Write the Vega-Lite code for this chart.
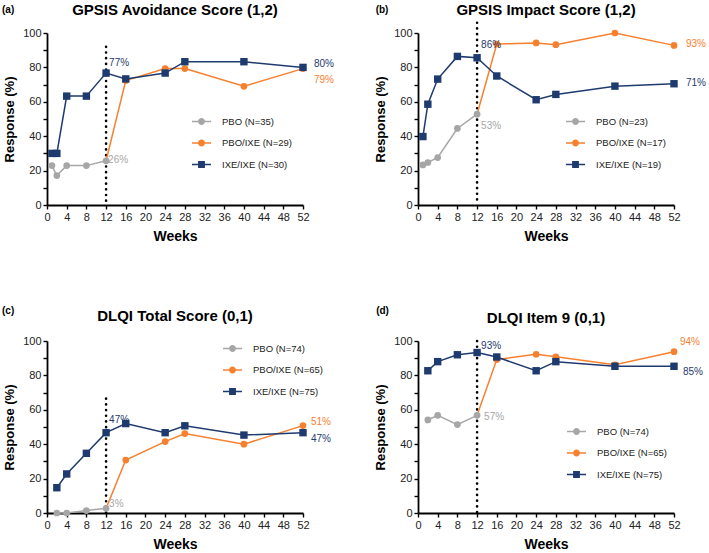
{
  "$schema": "https://vega.github.io/schema/vega-lite/v6.json",
  "padding": {"left": 1, "top": 2, "right": 0, "bottom": 0},
  "background": "white",
  "config": {
    "font": "Liberation Sans",
    "view": {"stroke": null},
    "axis": {"domainColor": "#000", "domainWidth": 1.8, "tickColor": "#000", "tickWidth": 1.4, "tickSize": 4, "labelFontSize": 11, "labelColor": "#222", "labelPadding": 2, "titleFontSize": 13, "titleFontWeight": "bold", "titleColor": "#000", "grid": false, "labelFont": "Liberation Sans", "titleFont": "Liberation Sans"},
    "axisX": {"titleFontSize": 14, "titlePadding": 7, "labelFlush": false},
    "axisY": {"titlePadding": 6},
    "legend": {"labelFontSize": 9.5, "labelColor": "#222", "labelFont": "Liberation Sans", "symbolSize": 361, "symbolStrokeWidth": 1.5, "rowPadding": 4.5, "padding": 0, "labelOffset": 10}
  },
  "datasets": {
    "a": [
      {"series": "PBO", "week": 1, "value": 22.9}, {"series": "PBO", "week": 2, "value": 17.1}, {"series": "PBO", "week": 4, "value": 22.9}, {"series": "PBO", "week": 8, "value": 22.9}, {"series": "PBO", "week": 12, "value": 25.7},
      {"series": "PBO/IXE", "week": 12, "value": 25.7}, {"series": "PBO/IXE", "week": 16, "value": 72.4}, {"series": "PBO/IXE", "week": 24, "value": 79.3}, {"series": "PBO/IXE", "week": 28, "value": 79.3}, {"series": "PBO/IXE", "week": 40, "value": 69.0}, {"series": "PBO/IXE", "week": 52, "value": 79.3},
      {"series": "IXE/IXE", "week": 1, "value": 30.0}, {"series": "IXE/IXE", "week": 2, "value": 30.0}, {"series": "IXE/IXE", "week": 4, "value": 63.3}, {"series": "IXE/IXE", "week": 8, "value": 63.3}, {"series": "IXE/IXE", "week": 12, "value": 76.7}, {"series": "IXE/IXE", "week": 16, "value": 73.3}, {"series": "IXE/IXE", "week": 24, "value": 76.7}, {"series": "IXE/IXE", "week": 28, "value": 83.3}, {"series": "IXE/IXE", "week": 40, "value": 83.3}, {"series": "IXE/IXE", "week": 52, "value": 80.0}
    ],
    "b": [
      {"series": "PBO", "week": 1, "value": 23.3}, {"series": "PBO", "week": 2, "value": 24.7}, {"series": "PBO", "week": 4, "value": 27.6}, {"series": "PBO", "week": 8, "value": 44.5}, {"series": "PBO", "week": 12, "value": 52.8},
      {"series": "PBO/IXE", "week": 12, "value": 52.8}, {"series": "PBO/IXE", "week": 16, "value": 93.6}, {"series": "PBO/IXE", "week": 24, "value": 94.2}, {"series": "PBO/IXE", "week": 28, "value": 93.2}, {"series": "PBO/IXE", "week": 40, "value": 100}, {"series": "PBO/IXE", "week": 52, "value": 92.8},
      {"series": "IXE/IXE", "week": 1, "value": 39.8}, {"series": "IXE/IXE", "week": 2, "value": 58.6}, {"series": "IXE/IXE", "week": 4, "value": 73.2}, {"series": "IXE/IXE", "week": 8, "value": 86.4}, {"series": "IXE/IXE", "week": 12, "value": 85.6}, {"series": "IXE/IXE", "week": 16, "value": 75.0}, {"series": "IXE/IXE", "week": 24, "value": 61.2}, {"series": "IXE/IXE", "week": 28, "value": 64.3}, {"series": "IXE/IXE", "week": 40, "value": 69.1}, {"series": "IXE/IXE", "week": 52, "value": 70.5}
    ],
    "c": [
      {"series": "PBO", "week": 2, "value": 0}, {"series": "PBO", "week": 4, "value": 0}, {"series": "PBO", "week": 8, "value": 1.4}, {"series": "PBO", "week": 12, "value": 2.7},
      {"series": "PBO/IXE", "week": 12, "value": 2.7}, {"series": "PBO/IXE", "week": 16, "value": 30.8}, {"series": "PBO/IXE", "week": 24, "value": 41.5}, {"series": "PBO/IXE", "week": 28, "value": 46.2}, {"series": "PBO/IXE", "week": 40, "value": 40.0}, {"series": "PBO/IXE", "week": 52, "value": 50.8},
      {"series": "IXE/IXE", "week": 2, "value": 14.7}, {"series": "IXE/IXE", "week": 4, "value": 22.7}, {"series": "IXE/IXE", "week": 8, "value": 34.7}, {"series": "IXE/IXE", "week": 12, "value": 46.7}, {"series": "IXE/IXE", "week": 16, "value": 52.0}, {"series": "IXE/IXE", "week": 24, "value": 46.7}, {"series": "IXE/IXE", "week": 28, "value": 50.7}, {"series": "IXE/IXE", "week": 40, "value": 45.3}, {"series": "IXE/IXE", "week": 52, "value": 46.7}
    ],
    "d": [
      {"series": "PBO", "week": 2, "value": 54.1}, {"series": "PBO", "week": 4, "value": 56.8}, {"series": "PBO", "week": 8, "value": 51.4}, {"series": "PBO", "week": 12, "value": 56.8},
      {"series": "PBO/IXE", "week": 12, "value": 56.8}, {"series": "PBO/IXE", "week": 16, "value": 89.2}, {"series": "PBO/IXE", "week": 24, "value": 92.3}, {"series": "PBO/IXE", "week": 28, "value": 90.8}, {"series": "PBO/IXE", "week": 40, "value": 86.2}, {"series": "PBO/IXE", "week": 52, "value": 93.8},
      {"series": "IXE/IXE", "week": 2, "value": 82.7}, {"series": "IXE/IXE", "week": 4, "value": 88.0}, {"series": "IXE/IXE", "week": 8, "value": 92.0}, {"series": "IXE/IXE", "week": 12, "value": 93.3}, {"series": "IXE/IXE", "week": 16, "value": 90.7}, {"series": "IXE/IXE", "week": 24, "value": 82.7}, {"series": "IXE/IXE", "week": 28, "value": 88.0}, {"series": "IXE/IXE", "week": 40, "value": 85.3}, {"series": "IXE/IXE", "week": 52, "value": 85.3}
    ],
    "ann": [
      {"panel": "a", "series": "IXE/IXE", "week": 12, "value": 76.7, "label": "77%", "pos": "above"},
      {"panel": "a", "series": "PBO", "week": 12, "value": 25.7, "label": "26%", "pos": "right"},
      {"panel": "a", "series": "IXE/IXE", "week": 52, "value": 80.0, "label": "80%", "pos": "end"},
      {"panel": "a", "series": "PBO/IXE", "week": 52, "value": 79.3, "label": "79%", "pos": "endbelow"},
      {"panel": "b", "series": "IXE/IXE", "week": 12, "value": 85.6, "label": "86%", "pos": "above"},
      {"panel": "b", "series": "PBO", "week": 12, "value": 52.8, "label": "53%", "pos": "below"},
      {"panel": "b", "series": "PBO/IXE", "week": 52, "value": 92.8, "label": "93%", "pos": "end"},
      {"panel": "b", "series": "IXE/IXE", "week": 52, "value": 70.5, "label": "71%", "pos": "end"},
      {"panel": "c", "series": "IXE/IXE", "week": 12, "value": 46.7, "label": "47%", "pos": "above"},
      {"panel": "c", "series": "PBO", "week": 12, "value": 2.7, "label": "3%", "pos": "right"},
      {"panel": "c", "series": "PBO/IXE", "week": 52, "value": 50.8, "label": "51%", "pos": "end"},
      {"panel": "c", "series": "IXE/IXE", "week": 52, "value": 46.7, "label": "47%", "pos": "endbelow"},
      {"panel": "d", "series": "IXE/IXE", "week": 12, "value": 93.3, "label": "93%", "pos": "above"},
      {"panel": "d", "series": "PBO", "week": 12, "value": 56.8, "label": "57%", "pos": "right"},
      {"panel": "d", "series": "PBO/IXE", "week": 52, "value": 93.8, "label": "94%", "pos": "endabove"},
      {"panel": "d", "series": "IXE/IXE", "week": 52, "value": 85.3, "label": "85%", "pos": "endbelow"}
    ]
  },
  "columns": 2,
  "spacing": {"row": 136, "column": 115},
  "bounds": "flush",
  "resolve": {"scale": {"color": "independent", "shape": "independent", "stroke": "independent"}},
  "concat": [
    {
      "width": 256, "height": 172,
      "data": {"name": "a"},
      "encoding": {
        "x": {"field": "week", "type": "quantitative", "scale": {"domain": [0, 52], "nice": false}, "axis": {"title": "Weeks", "values": [0, 4, 8, 12, 16, 20, 24, 28, 32, 36, 40, 44, 48, 52]}},
        "y": {"field": "value", "type": "quantitative", "scale": {"domain": [0, 100], "nice": false}, "axis": {"title": "Response (%)", "values": [0, 10, 20, 30, 40, 50, 60, 70, 80, 90, 100], "labelExpr": "datum.value % 20 == 0 ? datum.label : ''"}}
      },
      "layer": [
        {"transform": [{"filter": "datum.week < 0"}], "mark": {"type": "point", "filled": true, "opacity": 1},
          "encoding": {
            "color": {"field": "series", "type": "nominal", "scale": {"domain": ["PBO", "PBO/IXE", "IXE/IXE"], "range": ["#a6a6a6", "#f7802f", "#1f3a6e"]}, "legend": {"title": null, "orient": "none", "legendX": 144, "legendY": 78, "labelExpr": "datum.label == 'PBO' ? 'PBO (N=35)' : datum.label == 'PBO/IXE' ? 'PBO/IXE (N=29)' : 'IXE/IXE (N=30)'"}},
            "stroke": {"field": "series", "type": "nominal", "scale": {"domain": ["PBO", "PBO/IXE", "IXE/IXE"], "range": ["#a6a6a6", "#f7802f", "#1f3a6e"]}, "legend": {"title": null, "orient": "none", "legendX": 144, "legendY": 78, "labelExpr": "datum.label == 'PBO' ? 'PBO (N=35)' : datum.label == 'PBO/IXE' ? 'PBO/IXE (N=29)' : 'IXE/IXE (N=30)'"}},
            "shape": {"field": "series", "type": "nominal", "scale": {"domain": ["PBO", "PBO/IXE", "IXE/IXE"], "range": ["M-1,0H1M0.28,0A0.28,0.28,0,1,1,-0.28,0A0.28,0.28,0,1,1,0.28,0Z", "M-1,0H1M0.28,0A0.28,0.28,0,1,1,-0.28,0A0.28,0.28,0,1,1,0.28,0Z", "M-1,0H1M-0.28,-0.28H0.28V0.28H-0.28Z"]}, "legend": {"title": null, "orient": "none", "legendX": 144, "legendY": 78, "labelExpr": "datum.label == 'PBO' ? 'PBO (N=35)' : datum.label == 'PBO/IXE' ? 'PBO/IXE (N=29)' : 'IXE/IXE (N=30)'"}}
          }},
        {"transform": [{"filter": "datum.series == 'PBO' && datum.week == 12"}], "mark": {"type": "rule", "strokeDash": [0.1, 5.6], "strokeCap": "round", "strokeWidth": 2.6, "color": "#000"}, "encoding": {"x": {"datum": 12}, "y": {"datum": 92}, "y2": {"datum": 0}}},
        {"mark": {"type": "line", "strokeWidth": 1.5}, "encoding": {"color": {"field": "series", "type": "nominal", "legend": null}}},
        {"transform": [{"filter": "datum.series != 'IXE/IXE' && !(datum.series == 'PBO/IXE' && datum.week == 12)"}], "mark": {"type": "point", "shape": "circle", "filled": true, "size": 45, "opacity": 1}, "encoding": {"color": {"field": "series", "type": "nominal", "legend": null}}},
        {"transform": [{"filter": "datum.series == 'IXE/IXE'"}], "mark": {"type": "point", "shape": "square", "filled": true, "size": 55, "opacity": 1}, "encoding": {"color": {"field": "series", "type": "nominal", "legend": null}}},
        {"data": {"name": "ann"}, "transform": [{"filter": "datum.panel == 'a' && datum.pos == 'above'"}], "mark": {"type": "text", "align": "left", "baseline": "middle", "dx": 3, "dy": -10, "fontSize": 10}, "encoding": {"text": {"field": "label"}, "color": {"field": "series", "type": "nominal", "legend": null}}},
        {"data": {"name": "ann"}, "transform": [{"filter": "datum.panel == 'a' && datum.pos == 'right'"}], "mark": {"type": "text", "align": "left", "baseline": "middle", "dx": 2, "dy": -1, "fontSize": 10}, "encoding": {"text": {"field": "label"}, "color": {"field": "series", "type": "nominal", "legend": null}}},
        {"data": {"name": "ann"}, "transform": [{"filter": "datum.panel == 'a' && datum.pos == 'end'"}], "mark": {"type": "text", "align": "left", "baseline": "middle", "dx": 11, "dy": -3, "fontSize": 10}, "encoding": {"text": {"field": "label"}, "color": {"field": "series", "type": "nominal", "legend": null}}},
        {"data": {"name": "ann"}, "transform": [{"filter": "datum.panel == 'a' && datum.pos == 'endbelow'"}], "mark": {"type": "text", "align": "left", "baseline": "middle", "dx": 11, "dy": 11, "fontSize": 10}, "encoding": {"text": {"field": "label"}, "color": {"field": "series", "type": "nominal", "legend": null}}},
        {"transform": [{"filter": "datum.series == 'PBO' && datum.week == 12"}], "mark": {"type": "text", "fontSize": 15, "fontWeight": "bold", "color": "#000", "baseline": "middle", "align": "center"}, "encoding": {"text": {"value": "GPSIS Avoidance Score (1,2)"}, "x": {"datum": 26}, "y": {"datum": 113.4}}},
        {"transform": [{"filter": "datum.series == 'PBO' && datum.week == 12"}], "mark": {"type": "text", "fontSize": 10, "fontWeight": "bold", "color": "#000", "baseline": "middle", "align": "center"}, "encoding": {"text": {"value": "(a)"}, "x": {"datum": -7.9}, "y": {"datum": 113.4}}}
      ]
    },
    {
      "width": 256, "height": 172,
      "data": {"name": "b"},
      "encoding": {
        "x": {"field": "week", "type": "quantitative", "scale": {"domain": [0, 52], "nice": false}, "axis": {"title": "Weeks", "values": [0, 4, 8, 12, 16, 20, 24, 28, 32, 36, 40, 44, 48, 52]}},
        "y": {"field": "value", "type": "quantitative", "scale": {"domain": [0, 100], "nice": false}, "axis": {"title": "Response  (%)", "values": [0, 10, 20, 30, 40, 50, 60, 70, 80, 90, 100], "labelExpr": "datum.value % 20 == 0 ? datum.label : ''"}}
      },
      "layer": [
        {"transform": [{"filter": "datum.week < 0"}], "mark": {"type": "point", "filled": true, "opacity": 1},
          "encoding": {
            "color": {"field": "series", "type": "nominal", "scale": {"domain": ["PBO", "PBO/IXE", "IXE/IXE"], "range": ["#a6a6a6", "#f7802f", "#1f3a6e"]}, "legend": {"title": null, "orient": "none", "legendX": 147, "legendY": 78, "labelExpr": "datum.label == 'PBO' ? 'PBO (N=23)' : datum.label == 'PBO/IXE' ? 'PBO/IXE (N=17)' : 'IXE/IXE (N=19)'"}},
            "stroke": {"field": "series", "type": "nominal", "scale": {"domain": ["PBO", "PBO/IXE", "IXE/IXE"], "range": ["#a6a6a6", "#f7802f", "#1f3a6e"]}, "legend": {"title": null, "orient": "none", "legendX": 147, "legendY": 78, "labelExpr": "datum.label == 'PBO' ? 'PBO (N=23)' : datum.label == 'PBO/IXE' ? 'PBO/IXE (N=17)' : 'IXE/IXE (N=19)'"}},
            "shape": {"field": "series", "type": "nominal", "scale": {"domain": ["PBO", "PBO/IXE", "IXE/IXE"], "range": ["M-1,0H1M0.28,0A0.28,0.28,0,1,1,-0.28,0A0.28,0.28,0,1,1,0.28,0Z", "M-1,0H1M0.28,0A0.28,0.28,0,1,1,-0.28,0A0.28,0.28,0,1,1,0.28,0Z", "M-1,0H1M-0.28,-0.28H0.28V0.28H-0.28Z"]}, "legend": {"title": null, "orient": "none", "legendX": 147, "legendY": 78, "labelExpr": "datum.label == 'PBO' ? 'PBO (N=23)' : datum.label == 'PBO/IXE' ? 'PBO/IXE (N=17)' : 'IXE/IXE (N=19)'"}}
          }},
        {"transform": [{"filter": "datum.series == 'PBO' && datum.week == 12"}], "mark": {"type": "rule", "strokeDash": [0.1, 5.6], "strokeCap": "round", "strokeWidth": 2.6, "color": "#000"}, "encoding": {"x": {"datum": 12}, "y": {"datum": 106}, "y2": {"datum": 0}}},
        {"mark": {"type": "line", "strokeWidth": 1.5}, "encoding": {"color": {"field": "series", "type": "nominal", "legend": null}}},
        {"transform": [{"filter": "datum.series != 'IXE/IXE' && !(datum.series == 'PBO/IXE' && datum.week == 12)"}], "mark": {"type": "point", "shape": "circle", "filled": true, "size": 45, "opacity": 1}, "encoding": {"color": {"field": "series", "type": "nominal", "legend": null}}},
        {"transform": [{"filter": "datum.series == 'IXE/IXE'"}], "mark": {"type": "point", "shape": "square", "filled": true, "size": 55, "opacity": 1}, "encoding": {"color": {"field": "series", "type": "nominal", "legend": null}}},
        {"data": {"name": "ann"}, "transform": [{"filter": "datum.panel == 'b' && datum.pos == 'above'"}], "mark": {"type": "text", "align": "left", "baseline": "middle", "dx": 4, "dy": -13, "fontSize": 10}, "encoding": {"text": {"field": "label"}, "color": {"field": "series", "type": "nominal", "legend": null}}},
        {"data": {"name": "ann"}, "transform": [{"filter": "datum.panel == 'b' && datum.pos == 'below'"}], "mark": {"type": "text", "align": "left", "baseline": "middle", "dx": 4, "dy": 12, "fontSize": 10}, "encoding": {"text": {"field": "label"}, "color": {"field": "series", "type": "nominal", "legend": null}}},
        {"data": {"name": "ann"}, "transform": [{"filter": "datum.panel == 'b' && datum.pos == 'end'"}], "mark": {"type": "text", "align": "left", "baseline": "middle", "dx": 12, "dy": -1, "fontSize": 10}, "encoding": {"text": {"field": "label"}, "color": {"field": "series", "type": "nominal", "legend": null}}},
        {"transform": [{"filter": "datum.series == 'PBO' && datum.week == 12"}], "mark": {"type": "text", "fontSize": 15, "fontWeight": "bold", "color": "#000", "baseline": "middle", "align": "center"}, "encoding": {"text": {"value": "GPSIS Impact Score (1,2)"}, "x": {"datum": 26}, "y": {"datum": 113.4}}},
        {"transform": [{"filter": "datum.series == 'PBO' && datum.week == 12"}], "mark": {"type": "text", "fontSize": 10, "fontWeight": "bold", "color": "#000", "baseline": "middle", "align": "center"}, "encoding": {"text": {"value": "(b)"}, "x": {"datum": -7.3}, "y": {"datum": 113.4}}}
      ]
    },
    {
      "width": 256, "height": 172,
      "data": {"name": "c"},
      "encoding": {
        "x": {"field": "week", "type": "quantitative", "scale": {"domain": [0, 52], "nice": false}, "axis": {"title": "Weeks", "values": [0, 4, 8, 12, 16, 20, 24, 28, 32, 36, 40, 44, 48, 52]}},
        "y": {"field": "value", "type": "quantitative", "scale": {"domain": [0, 100], "nice": false}, "axis": {"title": "Response (%)", "values": [0, 10, 20, 30, 40, 50, 60, 70, 80, 90, 100], "labelExpr": "datum.value % 20 == 0 ? datum.label : ''"}}
      },
      "layer": [
        {"transform": [{"filter": "datum.week < 0"}], "mark": {"type": "point", "filled": true, "opacity": 1},
          "encoding": {
            "color": {"field": "series", "type": "nominal", "scale": {"domain": ["PBO", "PBO/IXE", "IXE/IXE"], "range": ["#a6a6a6", "#f7802f", "#1f3a6e"]}, "legend": {"title": null, "orient": "none", "legendX": 175, "legendY": -3, "labelExpr": "datum.label == 'PBO' ? 'PBO (N=74)' : datum.label == 'PBO/IXE' ? 'PBO/IXE (N=65)' : 'IXE/IXE (N=75)'"}},
            "stroke": {"field": "series", "type": "nominal", "scale": {"domain": ["PBO", "PBO/IXE", "IXE/IXE"], "range": ["#a6a6a6", "#f7802f", "#1f3a6e"]}, "legend": {"title": null, "orient": "none", "legendX": 175, "legendY": -3, "labelExpr": "datum.label == 'PBO' ? 'PBO (N=74)' : datum.label == 'PBO/IXE' ? 'PBO/IXE (N=65)' : 'IXE/IXE (N=75)'"}},
            "shape": {"field": "series", "type": "nominal", "scale": {"domain": ["PBO", "PBO/IXE", "IXE/IXE"], "range": ["M-1,0H1M0.28,0A0.28,0.28,0,1,1,-0.28,0A0.28,0.28,0,1,1,0.28,0Z", "M-1,0H1M0.28,0A0.28,0.28,0,1,1,-0.28,0A0.28,0.28,0,1,1,0.28,0Z", "M-1,0H1M-0.28,-0.28H0.28V0.28H-0.28Z"]}, "legend": {"title": null, "orient": "none", "legendX": 175, "legendY": -3, "labelExpr": "datum.label == 'PBO' ? 'PBO (N=74)' : datum.label == 'PBO/IXE' ? 'PBO/IXE (N=65)' : 'IXE/IXE (N=75)'"}}
          }},
        {"transform": [{"filter": "datum.series == 'PBO' && datum.week == 12"}], "mark": {"type": "rule", "strokeDash": [0.1, 5.6], "strokeCap": "round", "strokeWidth": 2.6, "color": "#000"}, "encoding": {"x": {"datum": 12}, "y": {"datum": 66.5}, "y2": {"datum": 0}}},
        {"mark": {"type": "line", "strokeWidth": 1.5}, "encoding": {"color": {"field": "series", "type": "nominal", "legend": null}}},
        {"transform": [{"filter": "datum.series != 'IXE/IXE' && !(datum.series == 'PBO/IXE' && datum.week == 12)"}], "mark": {"type": "point", "shape": "circle", "filled": true, "size": 45, "opacity": 1}, "encoding": {"color": {"field": "series", "type": "nominal", "legend": null}}},
        {"transform": [{"filter": "datum.series == 'IXE/IXE'"}], "mark": {"type": "point", "shape": "square", "filled": true, "size": 55, "opacity": 1}, "encoding": {"color": {"field": "series", "type": "nominal", "legend": null}}},
        {"data": {"name": "ann"}, "transform": [{"filter": "datum.panel == 'c' && datum.pos == 'above'"}], "mark": {"type": "text", "align": "left", "baseline": "middle", "dx": 3, "dy": -13, "fontSize": 10}, "encoding": {"text": {"field": "label"}, "color": {"field": "series", "type": "nominal", "legend": null}}},
        {"data": {"name": "ann"}, "transform": [{"filter": "datum.panel == 'c' && datum.pos == 'right'"}], "mark": {"type": "text", "align": "left", "baseline": "middle", "dx": 3, "dy": -4, "fontSize": 10}, "encoding": {"text": {"field": "label"}, "color": {"field": "series", "type": "nominal", "legend": null}}},
        {"data": {"name": "ann"}, "transform": [{"filter": "datum.panel == 'c' && datum.pos == 'end'"}], "mark": {"type": "text", "align": "left", "baseline": "middle", "dx": 8, "dy": -4, "fontSize": 10}, "encoding": {"text": {"field": "label"}, "color": {"field": "series", "type": "nominal", "legend": null}}},
        {"data": {"name": "ann"}, "transform": [{"filter": "datum.panel == 'c' && datum.pos == 'endbelow'"}], "mark": {"type": "text", "align": "left", "baseline": "middle", "dx": 8, "dy": 6, "fontSize": 10}, "encoding": {"text": {"field": "label"}, "color": {"field": "series", "type": "nominal", "legend": null}}},
        {"transform": [{"filter": "datum.series == 'PBO' && datum.week == 12"}], "mark": {"type": "text", "fontSize": 15, "fontWeight": "bold", "color": "#000", "baseline": "middle", "align": "center"}, "encoding": {"text": {"value": "DLQI Total Score (0,1)"}, "x": {"datum": 26}, "y": {"datum": 114.5}}},
        {"transform": [{"filter": "datum.series == 'PBO' && datum.week == 12"}], "mark": {"type": "text", "fontSize": 10, "fontWeight": "bold", "color": "#000", "baseline": "middle", "align": "center"}, "encoding": {"text": {"value": "(c)"}, "x": {"datum": -7.9}, "y": {"datum": 117.4}}}
      ]
    },
    {
      "width": 256, "height": 172,
      "data": {"name": "d"},
      "encoding": {
        "x": {"field": "week", "type": "quantitative", "scale": {"domain": [0, 52], "nice": false}, "axis": {"title": "Weeks", "values": [0, 4, 8, 12, 16, 20, 24, 28, 32, 36, 40, 44, 48, 52]}},
        "y": {"field": "value", "type": "quantitative", "scale": {"domain": [0, 100], "nice": false}, "axis": {"title": "Response  (%)", "values": [0, 10, 20, 30, 40, 50, 60, 70, 80, 90, 100], "labelExpr": "datum.value % 20 == 0 ? datum.label : ''"}}
      },
      "layer": [
        {"transform": [{"filter": "datum.week < 0"}], "mark": {"type": "point", "filled": true, "opacity": 1},
          "encoding": {
            "color": {"field": "series", "type": "nominal", "scale": {"domain": ["PBO", "PBO/IXE", "IXE/IXE"], "range": ["#a6a6a6", "#f7802f", "#1f3a6e"]}, "legend": {"title": null, "orient": "none", "legendX": 148, "legendY": 80, "labelExpr": "datum.label == 'PBO' ? 'PBO (N=74)' : datum.label == 'PBO/IXE' ? 'PBO/IXE (N=65)' : 'IXE/IXE (N=75)'"}},
            "stroke": {"field": "series", "type": "nominal", "scale": {"domain": ["PBO", "PBO/IXE", "IXE/IXE"], "range": ["#a6a6a6", "#f7802f", "#1f3a6e"]}, "legend": {"title": null, "orient": "none", "legendX": 148, "legendY": 80, "labelExpr": "datum.label == 'PBO' ? 'PBO (N=74)' : datum.label == 'PBO/IXE' ? 'PBO/IXE (N=65)' : 'IXE/IXE (N=75)'"}},
            "shape": {"field": "series", "type": "nominal", "scale": {"domain": ["PBO", "PBO/IXE", "IXE/IXE"], "range": ["M-1,0H1M0.28,0A0.28,0.28,0,1,1,-0.28,0A0.28,0.28,0,1,1,0.28,0Z", "M-1,0H1M0.28,0A0.28,0.28,0,1,1,-0.28,0A0.28,0.28,0,1,1,0.28,0Z", "M-1,0H1M-0.28,-0.28H0.28V0.28H-0.28Z"]}, "legend": {"title": null, "orient": "none", "legendX": 148, "legendY": 80, "labelExpr": "datum.label == 'PBO' ? 'PBO (N=74)' : datum.label == 'PBO/IXE' ? 'PBO/IXE (N=65)' : 'IXE/IXE (N=75)'"}}
          }},
        {"transform": [{"filter": "datum.series == 'PBO' && datum.week == 12"}], "mark": {"type": "rule", "strokeDash": [0.1, 5.6], "strokeCap": "round", "strokeWidth": 2.6, "color": "#000"}, "encoding": {"x": {"datum": 12}, "y": {"datum": 100}, "y2": {"datum": 0}}},
        {"mark": {"type": "line", "strokeWidth": 1.5}, "encoding": {"color": {"field": "series", "type": "nominal", "legend": null}}},
        {"transform": [{"filter": "datum.series != 'IXE/IXE' && !(datum.series == 'PBO/IXE' && datum.week == 12)"}], "mark": {"type": "point", "shape": "circle", "filled": true, "size": 45, "opacity": 1}, "encoding": {"color": {"field": "series", "type": "nominal", "legend": null}}},
        {"transform": [{"filter": "datum.series == 'IXE/IXE'"}], "mark": {"type": "point", "shape": "square", "filled": true, "size": 55, "opacity": 1}, "encoding": {"color": {"field": "series", "type": "nominal", "legend": null}}},
        {"data": {"name": "ann"}, "transform": [{"filter": "datum.panel == 'd' && datum.pos == 'above'"}], "mark": {"type": "text", "align": "left", "baseline": "middle", "dx": 4, "dy": -7, "fontSize": 10}, "encoding": {"text": {"field": "label"}, "color": {"field": "series", "type": "nominal", "legend": null}}},
        {"data": {"name": "ann"}, "transform": [{"filter": "datum.panel == 'd' && datum.pos == 'right'"}], "mark": {"type": "text", "align": "left", "baseline": "middle", "dx": 7, "dy": 2, "fontSize": 10}, "encoding": {"text": {"field": "label"}, "color": {"field": "series", "type": "nominal", "legend": null}}},
        {"data": {"name": "ann"}, "transform": [{"filter": "datum.panel == 'd' && datum.pos == 'endabove'"}], "mark": {"type": "text", "align": "left", "baseline": "middle", "dx": 6, "dy": -10, "fontSize": 10}, "encoding": {"text": {"field": "label"}, "color": {"field": "series", "type": "nominal", "legend": null}}},
        {"data": {"name": "ann"}, "transform": [{"filter": "datum.panel == 'd' && datum.pos == 'endbelow'"}], "mark": {"type": "text", "align": "left", "baseline": "middle", "dx": 9, "dy": 6, "fontSize": 10}, "encoding": {"text": {"field": "label"}, "color": {"field": "series", "type": "nominal", "legend": null}}},
        {"transform": [{"filter": "datum.series == 'PBO' && datum.week == 12"}], "mark": {"type": "text", "fontSize": 15, "fontWeight": "bold", "color": "#000", "baseline": "middle", "align": "center"}, "encoding": {"text": {"value": "DLQI Item 9 (0,1)"}, "x": {"datum": 26}, "y": {"datum": 113.5}}},
        {"transform": [{"filter": "datum.series == 'PBO' && datum.week == 12"}], "mark": {"type": "text", "fontSize": 10, "fontWeight": "bold", "color": "#000", "baseline": "middle", "align": "center"}, "encoding": {"text": {"value": "(d)"}, "x": {"datum": -7.2}, "y": {"datum": 117.4}}}
      ]
    }
  ]
}
